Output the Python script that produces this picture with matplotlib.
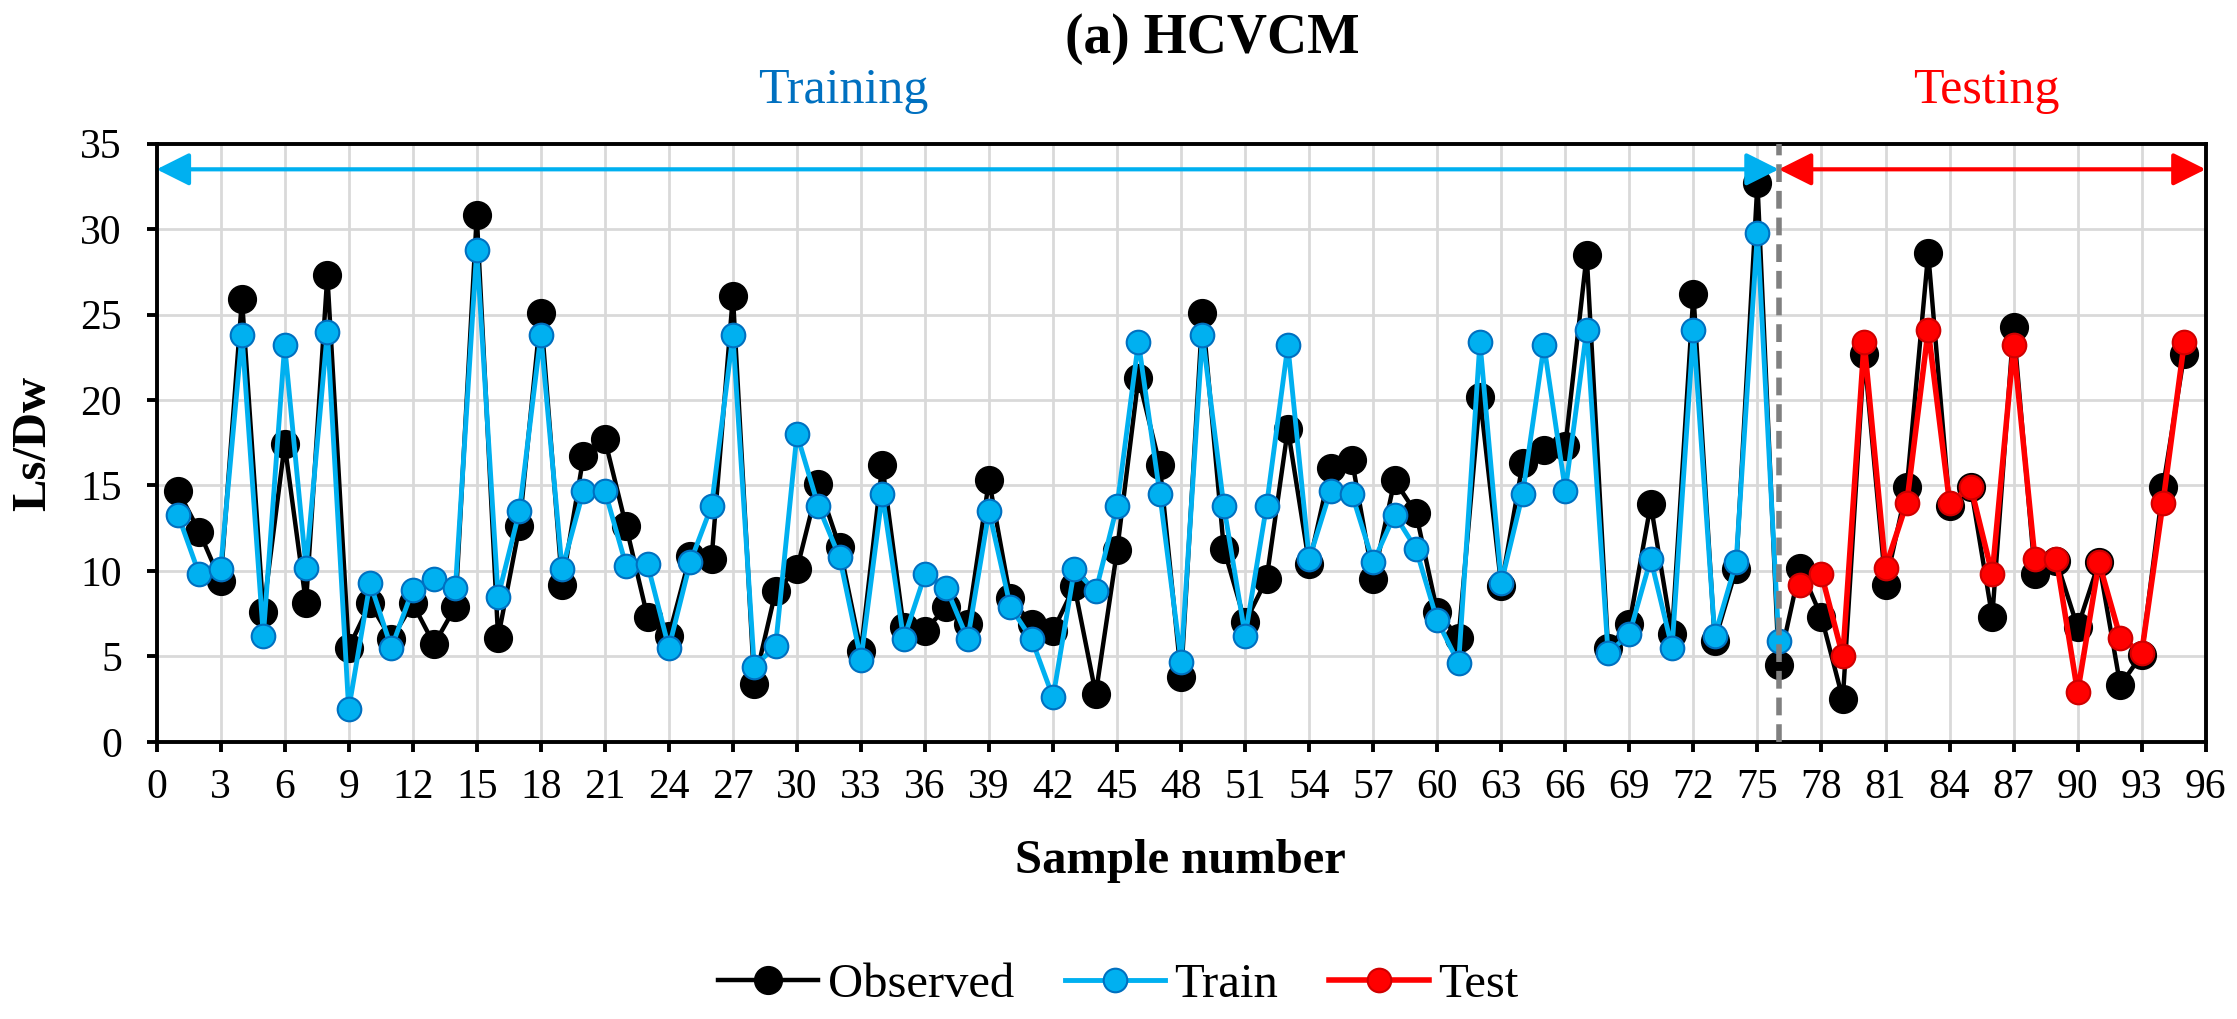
import matplotlib
matplotlib.use("Agg")
import matplotlib.pyplot as plt
import numpy as np

FONT_NAME = "Liberation Serif"
plt.rcParams["font.family"] = [FONT_NAME, "DejaVu Serif"]

# ---- data ----
observed = [
    14.7, 12.3, 9.4, 25.9, 7.6, 17.4, 8.1, 27.3, 5.5, 8.1,
    6.0, 8.1, 5.7, 7.9, 30.8, 6.1, 12.6, 25.1, 9.2, 16.7,
    17.7, 12.6, 7.3, 6.2, 10.9, 10.7, 26.1, 3.4, 8.8, 10.1,
    15.1, 11.4, 5.3, 16.2, 6.7, 6.5, 7.9, 6.9, 15.3, 8.4,
    6.9, 6.5, 9.1, 2.8, 11.2, 21.3, 16.2, 3.8, 25.1, 11.3,
    7.0, 9.5, 18.3, 10.4, 16.0, 16.5, 9.5, 15.3, 13.4, 7.6,
    6.1, 20.2, 9.1, 16.3, 17.1, 17.3, 28.5, 5.5, 6.9, 13.9,
    6.3, 26.2, 5.9, 10.1, 32.7, 4.5, 10.2, 7.3, 2.5, 22.7,
    9.2, 14.9, 28.6, 13.8, 14.9, 7.3, 24.3, 9.8, 10.6, 6.7,
    10.5, 3.3, 5.1, 14.9, 22.7,
]
train = [
    13.3, 9.8, 10.1, 23.8, 6.2, 23.2, 10.2, 24.0, 1.9, 9.3,
    5.5, 8.9, 9.5, 9.0, 28.8, 8.5, 13.5, 23.8, 10.1, 14.7,
    14.7, 10.3, 10.4, 5.5, 10.5, 13.8, 23.8, 4.4, 5.6, 18.0,
    13.8, 10.8, 4.8, 14.5, 6.0, 9.8, 9.0, 6.0, 13.5, 7.9,
    6.0, 2.6, 10.1, 8.8, 13.8, 23.4, 14.5, 4.7, 23.8, 13.8,
    6.2, 13.8, 23.2, 10.7, 14.7, 14.5, 10.5, 13.3, 11.3, 7.1,
    4.6, 23.4, 9.3, 14.5, 23.2, 14.7, 24.1, 5.2, 6.3, 10.7,
    5.5, 24.1, 6.2, 10.5, 29.8, 5.9,
]
test = [
    9.2, 9.8, 5.0, 23.4, 10.2, 14.0, 24.1, 14.0, 14.9, 9.8,
    23.2, 10.7, 10.7, 2.9, 10.5, 6.1, 5.2, 14.0, 23.4,
]
split_at = 76
x_max = 96

x_obs = np.arange(1, len(observed) + 1)
x_train = np.arange(1, len(train) + 1)
x_test = np.arange(len(train) + 1, len(train) + len(test) + 1)

# ---- figure ----
fig = plt.figure(figsize=(22.37, 10.19), dpi=100)
ax = fig.add_axes([0.070, 0.272, 0.916, 0.587])

ax.plot(x_obs, observed, color="black", lw=3.2, marker="o", ms=20,
        mfc="black", mec="black", label="Observed", zorder=3)
ax.plot(x_train, train, color="#00B0F0", lw=3.5, marker="o", ms=17,
        mfc="#00B0F0", mec="#0070C0", mew=1.5, label="Train", zorder=4)
ax.plot(x_test, test, color="#FF0000", lw=4, marker="o", ms=17,
        mfc="#FF0000", mec="#D00000", mew=1.5, label="Test", zorder=4)

ax.axvline(split_at, color="#808080", lw=4, ls=(0, (3.2, 1.6)), zorder=5)

arrow_y = 33.5
ax.annotate("", xy=(split_at, arrow_y), xytext=(0, arrow_y),
            arrowprops=dict(arrowstyle="<|-|>,head_length=0.4,head_width=0.2",
                            mutation_scale=50, color="#00B0F0", lw=3,
                            shrinkA=0, shrinkB=0), zorder=6)
ax.annotate("", xy=(x_max, arrow_y), xytext=(split_at, arrow_y),
            arrowprops=dict(arrowstyle="<|-|>,head_length=0.4,head_width=0.2",
                            mutation_scale=50, color="#FF0000", lw=3,
                            shrinkA=0, shrinkB=0), zorder=6)

ax.set_xlim(0, x_max)
ax.set_ylim(0, 35)
ax.set_xticks(np.arange(0, x_max + 1, 3))
ax.set_yticks(np.arange(0, 36, 5))
ax.grid(True, color="#D9D9D9", lw=2, zorder=0)
ax.set_axisbelow(True)

for s in ax.spines.values():
    s.set_linewidth(2.8)
    s.set_color("black")
ax.tick_params(axis="both", direction="out", length=7, width=2.8, labelsize=30)
ax.tick_params(axis="x", pad=12)
ax.tick_params(axis="y", pad=18)

# ---- texts ----
fig.text(0.542, 0.948, "(a) HCVCM", fontsize=40, fontweight="bold",
         ha="center", va="baseline")
fig.text(0.377, 0.899, "Training", fontsize=36, color="#0070C0",
         ha="center", va="baseline")
fig.text(0.888, 0.899, "Testing", fontsize=36, color="#FF0000",
         ha="center", va="baseline")
fig.text(0.0148, 0.565, "Ls/Dw", fontsize=35, fontweight="bold",
         rotation=90, ha="center", va="center")
fig.text(0.5275, 0.1433, "Sample number", fontsize=35, fontweight="bold",
         ha="center", va="baseline")

fig.legend(loc="center", bbox_to_anchor=(0.5, 0.033), ncol=3, frameon=False,
           fontsize=35, handlelength=2.05, handletextpad=0.2,
           columnspacing=1.05, numpoints=1)

fig.savefig("out.png", dpi=100)
